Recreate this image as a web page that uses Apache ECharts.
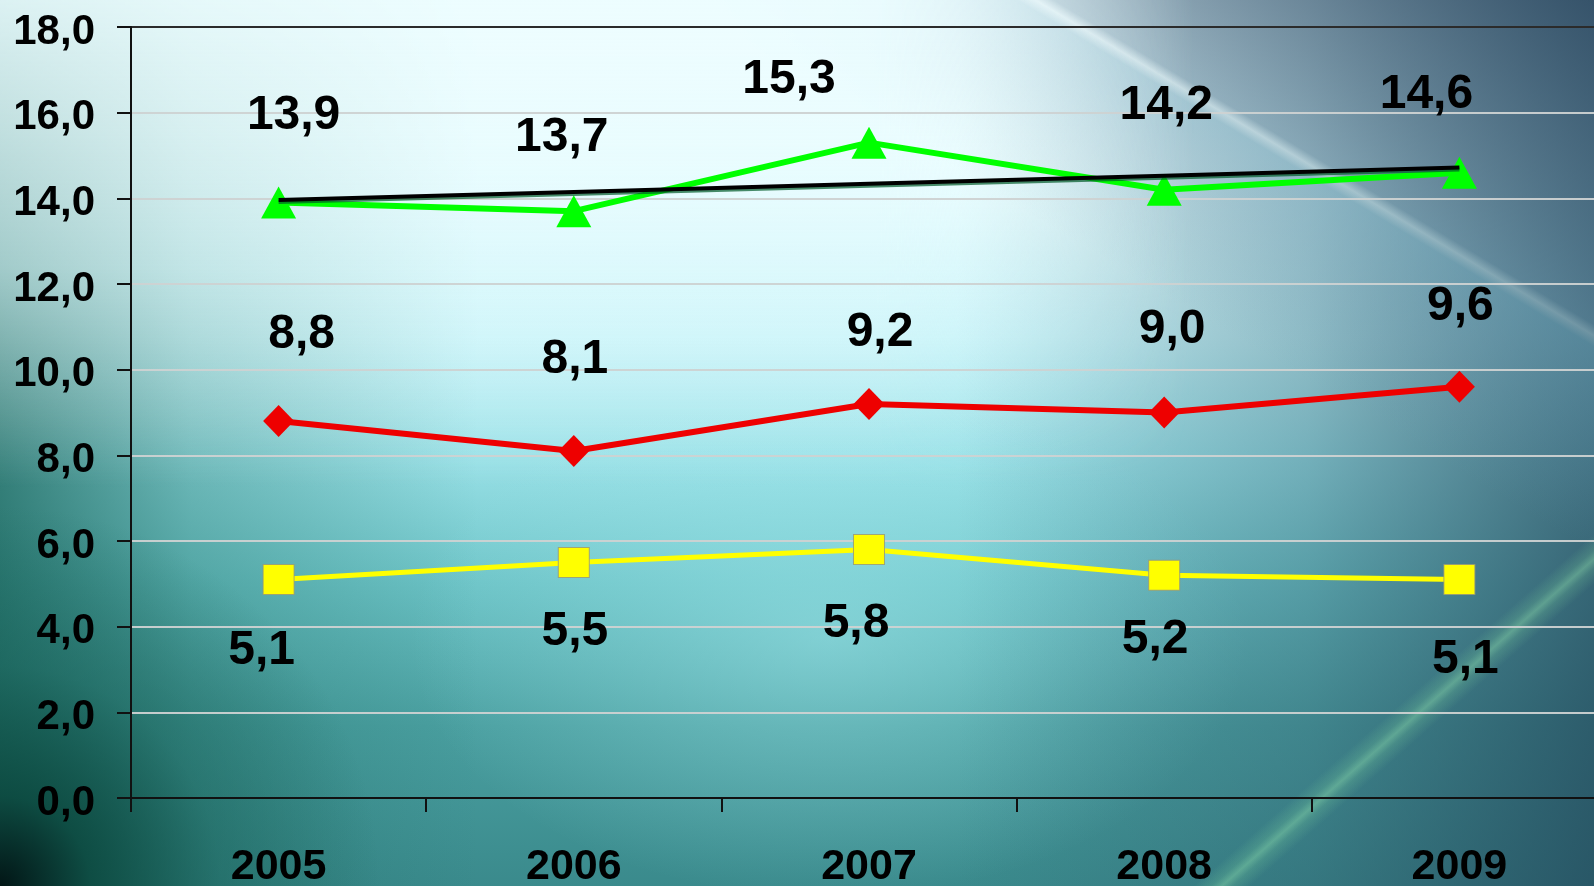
<!DOCTYPE html>
<html>
<head>
<meta charset="utf-8">
<script src="https://cdn.jsdelivr.net/npm/echarts@6/dist/echarts.min.js"></script>
<style>
  html, body { margin: 0; padding: 0; overflow: hidden; }
  #wrap {
    position: relative;
    width: 1594px;
    height: 886px;
    overflow: hidden;
    background:
      /* thin green light streak, lower right */
      linear-gradient(138.7deg, rgba(0,0,0,0) 84.6%, rgba(130,220,160,0.2) 85.3%, rgba(150,235,175,0.4) 85.7%, rgba(130,220,160,0.2) 86.1%, rgba(0,0,0,0) 86.8%),
      /* diagonal light streak, upper right, slate beyond it */
      linear-gradient(31deg, rgba(0,0,0,0) 70%, rgba(100,165,190,0.38) 81.2%, rgba(190,225,236,0.3) 81.8%, rgba(85,130,155,0.45) 82.4%, rgba(60,95,120,0.65) 92%, rgba(45,75,100,0.8) 100%),
      /* darker right edge */
      linear-gradient(90deg, rgba(0,0,0,0) 60%, rgba(45,85,105,0.35) 82%, rgba(35,70,90,0.75) 100%),
      /* dark lower-left corner */
      radial-gradient(circle at 0% 100%, rgba(2,22,22,1) 0px, rgba(10,70,60,0.85) 90px, rgba(20,90,80,0.4) 220px, rgba(0,0,0,0) 380px),
      /* darker teal along the left edge */
      linear-gradient(90deg, rgba(20,95,85,0.75) 0%, rgba(30,110,100,0.35) 12%, rgba(0,0,0,0) 30%),
      /* soft bright glow in the middle */
      radial-gradient(ellipse 420px 260px at 52% 72%, rgba(170,240,245,0.45), rgba(0,0,0,0)),
      /* base vertical wash: white top, teal bottom */
      linear-gradient(180deg, #ffffff 0%, #f0feff 18%, #c6f3f8 38%, #98e0e6 52%, #6cc3c6 66%, #4a9fa0 82%, #3a8a8c 100%);
  }
  #wrap::before {
    content: "";
    position: absolute; left: 0; top: 0; right: 0; bottom: 0;
    background: linear-gradient(180deg, rgba(235,253,255,0.9) 0%, rgba(225,250,253,0.6) 30%, rgba(200,240,245,0.0) 55%);
    -webkit-mask-image: linear-gradient(90deg, #000 0%, #000 55%, transparent 75%);
    mask-image: linear-gradient(90deg, #000 0%, #000 55%, transparent 75%);
  }
  /* plot runs past the right edge of the page */
  #chart { position: absolute; left: 0; top: 0; width: 1620px; height: 886px; }
</style>
</head>
<body>
<div id="wrap"><div id="chart"></div></div>
<script>
// Years on the category axis
const years = ['2005', '2006', '2007', '2008', '2009'];

// Series values
const greenValues  = [13.9, 13.7, 15.3, 14.2, 14.6];
const redValues    = [8.8, 8.1, 9.2, 9.0, 9.6];
const yellowValues = [5.1, 5.5, 5.8, 5.2, 5.1];

// Linear trend of the green series
const trendValues  = [13.96, 14.15, 14.34, 14.53, 14.72];

// Value-axis scale
const yMin = 0, yMax = 18, yStep = 2;

// Hand-placed value labels: pixel shift of each label from its point
const greenLabelShift  = [[15, -87], [-12, -73], [-80, -63], [2, -84], [-33, -78]];
const redLabelShift    = [[23, -86], [1, -91], [11, -71], [8, -83], [1, -80]];
const yellowLabelShift = [[-17, 71], [1, 69], [-13, 74], [-9, 64], [6, 80]];

const FONT = '"Liberation Sans", Arial, sans-serif';
const comma = v => Number(v).toFixed(1).replace('.', ',');

function withLabels(values, shifts) {
  return values.map((v, i) => ({
    value: v,
    label: { offset: shifts[i] }
  }));
}

const valueLabel = {
  show: true,
  position: 'inside',
  color: '#000',
  fontFamily: FONT,
  fontWeight: 'bold',
  fontSize: 48,
  formatter: p => comma(p.value)
};

const chart = echarts.init(document.getElementById('chart'), null, { renderer: 'canvas' });

chart.setOption({
  backgroundColor: 'transparent',
  animation: false,
  grid: {
    left: 131, top: 27, bottom: 88, right: 13,
    containLabel: false,
    outerBoundsMode: 'none',
    show: true,
    borderColor: '#2b2b2b',
    borderWidth: 2,
    backgroundColor: 'transparent'
  },
  xAxis: {
    type: 'category',
    data: years,
    boundaryGap: true,
    axisLine: { show: true, lineStyle: { color: '#111', width: 2 } },
    axisTick: { show: true, length: 14, lineStyle: { color: '#111', width: 2 } },
    axisLabel: {
      color: '#000', fontFamily: FONT, fontWeight: 'bold', fontSize: 43, margin: 48
    },
    splitLine: { show: false }
  },
  yAxis: {
    type: 'value',
    min: yMin, max: yMax, interval: yStep,
    axisLine: { show: true, lineStyle: { color: '#111', width: 2 } },
    axisTick: { show: true, length: 14, lineStyle: { color: '#111', width: 2 } },
    axisLabel: {
      margin: 36,
      formatter: v => '{t|' + comma(v) + '}',
      rich: {
        t: {
          color: '#000', fontFamily: FONT, fontWeight: 'bold', fontSize: 42,
          padding: [10, 0, 0, 0]
        }
      }
    },
    splitLine: {
      show: true,
      showMinLine: false,
      showMaxLine: false,
      lineStyle: { color: 'rgba(205,210,210,0.95)', width: 2 }
    }
  },
  series: [
    {
      name: 'green',
      type: 'line',
      data: withLabels(greenValues, greenLabelShift),
      symbol: 'triangle',
      symbolSize: [35, 32],
      lineStyle: { color: '#00ff00', width: 6 },
      itemStyle: { color: '#00ff00' },
      label: valueLabel,
      z: 3
    },
    {
      name: 'trend',
      type: 'line',
      data: trendValues,
      symbol: 'none',
      lineStyle: {
        color: '#000', width: 4,
        shadowColor: 'rgba(0,90,40,0.7)', shadowBlur: 0, shadowOffsetY: 2
      },
      silent: true,
      z: 4
    },
    {
      name: 'red',
      type: 'line',
      data: withLabels(redValues, redLabelShift),
      symbol: 'diamond',
      symbolSize: [31, 32],
      lineStyle: { color: '#ee0000', width: 6 },
      itemStyle: { color: '#ee0000' },
      label: valueLabel,
      z: 3
    },
    {
      name: 'yellow',
      type: 'line',
      data: withLabels(yellowValues, yellowLabelShift),
      symbol: 'rect',
      symbolSize: [31, 30],
      lineStyle: { color: '#ffff00', width: 5 },
      itemStyle: { color: '#ffff00', borderColor: 'rgba(150,150,120,0.8)', borderWidth: 1 },
      label: valueLabel,
      z: 3
    }
  ]
});
</script>
</body>
</html>
